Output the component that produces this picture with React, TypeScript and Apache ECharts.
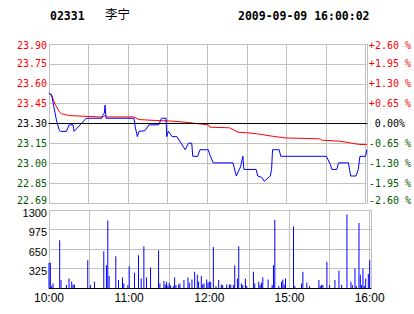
import React, { useEffect, useRef } from "react";
import * as echarts from "echarts";

// ---- data ----
const stockCode = "02331";
const stockName = "李宁";
const stamp = "2009-09-09 16:00:02";
const prevClose = 23.3;

// minutes since 10:00 (afternoon continues after 12:30 at 150)
const priceTimes = [0, 2, 3.25, 5.75, 7.75, 8.75, 13.25, 15.25, 18.25, 19, 28.25, 40, 40.5, 42, 42.5, 43.25, 64.5, 65.25, 67, 68.25, 72.75, 75.75, 83.25, 85.25, 88.75, 89.25, 90.5, 92, 93.25, 97, 103.25, 105.75, 108.25, 109, 112.75, 114.5, 120.75, 122, 124.5, 139.5, 142, 145.25, 147, 147.75, 157, 158.25, 161.25, 163.25, 167.75, 168.75, 169.5, 174.5, 175.75, 210.25, 213.25, 214.5, 218.25, 219.5, 227, 228.75, 232.75, 234.5, 235.75, 240, 241];
const prices = [23.53, 23.52, 23.45, 23.32, 23.25, 23.24, 23.24, 23.29, 23.29, 23.24, 23.34, 23.34, 23.36, 23.38, 23.44, 23.34, 23.34, 23.28, 23.2, 23.24, 23.245, 23.29, 23.29, 23.34, 23.34, 23.2, 23.24, 23.22, 23.2, 23.2, 23.1, 23.15, 23.15, 23.05, 23.05, 23.1, 23.1, 23.06, 23.0, 23.0, 22.9, 22.97, 23.05, 22.95, 22.95, 22.9, 22.89, 22.86, 22.9, 22.95, 23.1, 23.1, 23.05, 23.05, 22.99, 22.95, 22.95, 23.0, 23.0, 22.9, 22.9, 22.95, 23.05, 23.05, 23.1];

const avgTimes = [0, 2, 5, 7.75, 9.5, 15.75, 38.25, 40.5, 42.5, 44.5, 64.5, 68.25, 80.75, 93.25, 103.25, 113.25, 120.75, 122, 137, 139.5, 143, 150.5, 158, 169.5, 179.25, 205.5, 206.75, 220.5, 228, 235.5, 241];
const avgPrices = [23.53, 23.51, 23.44, 23.39, 23.374, 23.36, 23.35, 23.35, 23.36, 23.35, 23.35, 23.33, 23.323, 23.318, 23.31, 23.298, 23.29, 23.272, 23.267, 23.254, 23.234, 23.229, 23.221, 23.203, 23.19, 23.183, 23.173, 23.165, 23.153, 23.14, 23.14];

const volTimes = [0, 1, 2, 3, 8, 9, 13, 15, 17, 18, 19, 29, 31, 34, 41, 43, 44, 45, 50, 52, 55, 56, 59, 60, 64, 67, 69, 71, 73, 76, 82, 83, 86, 87, 88, 89, 90, 91, 93, 94, 95, 97, 98, 101, 104, 105, 107, 109, 111, 112, 114, 115, 116, 118, 119, 120, 121, 123, 125, 127, 129, 130, 133, 135, 136, 138, 139, 141, 142, 144, 145, 147, 148, 153, 154, 157, 158, 159, 160, 164, 167, 168, 169, 172, 174, 175, 176, 177, 183, 184, 189, 190, 193, 195, 202, 203, 204, 205, 208, 210, 214, 217, 219, 223, 226, 227, 229, 230, 232, 233, 234, 235, 236, 237, 239, 240];
const volumes = [420, 420, 33, 77, 795, 132, 50, 160, 110, 60, 60, 464, 50, 105, 613, 380, 1126, 199, 530, 132, 177, 77, 50, 364, 254, 546, 160, 695, 177, 342, 629, 77, 116, 60, 105, 40, 88, 40, 30, 177, 50, 60, 77, 132, 177, 88, 143, 270, 221, 105, 199, 60, 77, 143, 88, 105, 105, 684, 33, 132, 60, 50, 60, 60, 60, 50, 380, 160, 695, 77, 50, 160, 33, 270, 77, 105, 50, 88, 177, 143, 50, 380, 1137, 33, 105, 143, 60, 160, 1027, 33, 77, 270, 88, 33, 132, 33, 50, 50, 436, 50, 132, 287, 50, 1225, 105, 50, 326, 33, 1082, 221, 50, 326, 33, 160, 232, 464];

const priceTickLabels = ["22.69", "22.85", "23.00", "23.15", "23.30", "23.45", "23.60", "23.75", "23.90"];
const pctTickLabels = ["-2.60 %", "-1.95 %", "-1.30 %", "-0.65 %", "0.00%", "+0.65 %", "+1.30 %", "+1.95 %", "+2.60 %"];
const timeTicks = [0, 60, 120, 180, 240];
const timeLabels = ["10:00", "11:00", "12:00", "15:00", "16:00"];
const volTickLabels = ["", "325", "650", "975", "1300"];

const PCT_MAX = 2.6;
const PCT_STEP = 0.65;
const VOL_MAX = 1300;
const VOL_STEP = 325;

const RED = "#ff0000";
const GREEN = "#005a00";
const GRID = "#c0c0c0";
const MONO = "'DejaVu Sans Mono', monospace";
const SANS = "'Liberation Sans', Arial, sans-serif";

const toPct = (p: number) => (p / prevClose - 1) * 100;

export default function App() {
  const ref = useRef<HTMLDivElement>(null);
  useEffect(() => {
    if (!ref.current) return;
    const chart = echarts.init(ref.current, null, { renderer: "svg" });
    const idx = (v: number) => Math.round((v + PCT_MAX) / PCT_STEP);
    const base = { fontFamily: MONO, fontSize: 10 };
    const rich = {
      u: { ...base, color: RED },
      ut: { ...base, color: RED, padding: [2, 0, 0, 0] },
      z: { ...base, color: "#000" },
      d: { ...base, color: GREEN },
      db: { ...base, color: GREEN, padding: [0, 0, 5, 0] },
      zp: { ...base, color: "#000", padding: [0, 0, 0, 6] },
    };
    const cls = (i: number) => (i === 8 ? "ut" : i > 4 ? "u" : i === 4 ? "z" : i === 0 ? "db" : "d");
    const gridX = { left: 49, width: 322 };
    const xBase = {
      type: "value" as const,
      min: 0,
      max: 241,
      interval: 30,
      axisLine: { show: true, lineStyle: { color: "#000", width: 1 } },
      axisTick: { show: false },
      splitLine: { show: true, lineStyle: { color: GRID, width: 1 } },
    };
    const option = {
      animation: false,
      backgroundColor: "#fff",
      graphic: [
        { type: "text", left: 50, top: 10, style: { text: stockCode, font: `bold 11.5px ${MONO}`, fill: "#000" } },
        { type: "text", left: 105, top: 7, style: { text: stockName, font: `12.5px 'Noto Sans CJK SC'`, fill: "#000" } },
        { type: "text", left: 238, top: 10, style: { text: stamp, font: `bold 11.5px ${MONO}`, fill: "#000" } },
      ],
      grid: [
        { ...gridX, top: 44, height: 159 },
        { ...gridX, top: 210, height: 78 },
      ],
      xAxis: [
        { ...xBase, gridIndex: 0, axisLabel: { show: false } },
        {
          ...xBase,
          gridIndex: 1,
          axisLabel: {
            show: true,
            margin: 4,
            fontFamily: SANS,
            fontSize: 12,
            color: "#000",
            showMinLabel: true,
            showMaxLabel: true,
            formatter: (v: number) => {
              const k = timeTicks.indexOf(Math.round(v));
              return k >= 0 && Math.abs(v - timeTicks[k]) < 0.01 ? timeLabels[k] : "";
            },
          },
        },
      ],
      yAxis: [
        {
          type: "value",
          gridIndex: 0,
          min: -PCT_MAX,
          max: PCT_MAX,
          interval: PCT_STEP,
          axisLine: { show: true, lineStyle: { color: GRID } },
          axisTick: { show: false },
          splitLine: { show: true, lineStyle: { color: GRID } },
          axisLabel: {
            margin: 2,
            formatter: (v: number) => {
              const i = idx(v);
              return `{${cls(i)}|${priceTickLabels[i]}}`;
            },
            rich,
          },
        },
        {
          type: "value",
          gridIndex: 0,
          position: "right",
          min: -PCT_MAX,
          max: PCT_MAX,
          interval: PCT_STEP,
          axisLine: { show: true, lineStyle: { color: GRID } },
          axisTick: { show: false },
          splitLine: { show: false },
          axisLabel: {
            margin: 2,
            align: "left",
            formatter: (v: number) => {
              const i = idx(v);
              return `{${i === 4 ? "zp" : cls(i)}|${pctTickLabels[i]}}`;
            },
            rich,
          },
        },
        {
          type: "value",
          gridIndex: 1,
          min: 0,
          max: VOL_MAX,
          interval: VOL_STEP,
          axisLine: { show: true, lineStyle: { color: GRID } },
          axisTick: { show: false },
          splitLine: { show: true, lineStyle: { color: GRID } },
          axisLabel: {
            margin: 2,
            formatter: (v: number) => {
              const s = volTickLabels[Math.round(v / VOL_STEP)] ?? "";
              return s ? `{v|${s}}` : "";
            },
            rich: { v: { fontFamily: SANS, fontSize: 11, color: "#000", padding: [5, 0, 0, 0] } },
          },
        },
        {
          type: "value",
          gridIndex: 1,
          position: "right",
          min: 0,
          max: VOL_MAX,
          interval: VOL_STEP,
          axisLine: { show: true, lineStyle: { color: GRID } },
          axisTick: { show: false },
          splitLine: { show: false },
          axisLabel: { show: false },
        },
      ],
      series: [
        {
          type: "line",
          xAxisIndex: 0,
          yAxisIndex: 0,
          data: avgTimes.map((t, i) => [t, toPct(avgPrices[i])]),
          showSymbol: false,
          lineStyle: { color: RED, width: 1 },
          z: 3,
          markLine: {
            silent: true,
            symbol: "none",
            label: { show: false },
            lineStyle: { color: "#000", width: 1, type: "solid" },
            data: [{ yAxis: 0 }],
          },
        },
        {
          type: "line",
          xAxisIndex: 0,
          yAxisIndex: 0,
          data: priceTimes.map((t, i) => [t, toPct(prices[i])]),
          showSymbol: false,
          lineStyle: { color: "#0000ff", width: 1 },
          z: 4,
        },
        {
          type: "bar",
          xAxisIndex: 1,
          yAxisIndex: 2,
          data: volTimes.map((t, i) => [t, volumes[i]]),
          barWidth: 1,
          itemStyle: { color: "#0000ff" },
        },
      ],
    };
    chart.setOption(option as any);
    return () => chart.dispose();
  }, []);
  return (
    <div
      ref={ref}
      style={{ position: "fixed", left: 0, top: 0, width: 414, height: 314, background: "#fff" }}
    />
  );
}
